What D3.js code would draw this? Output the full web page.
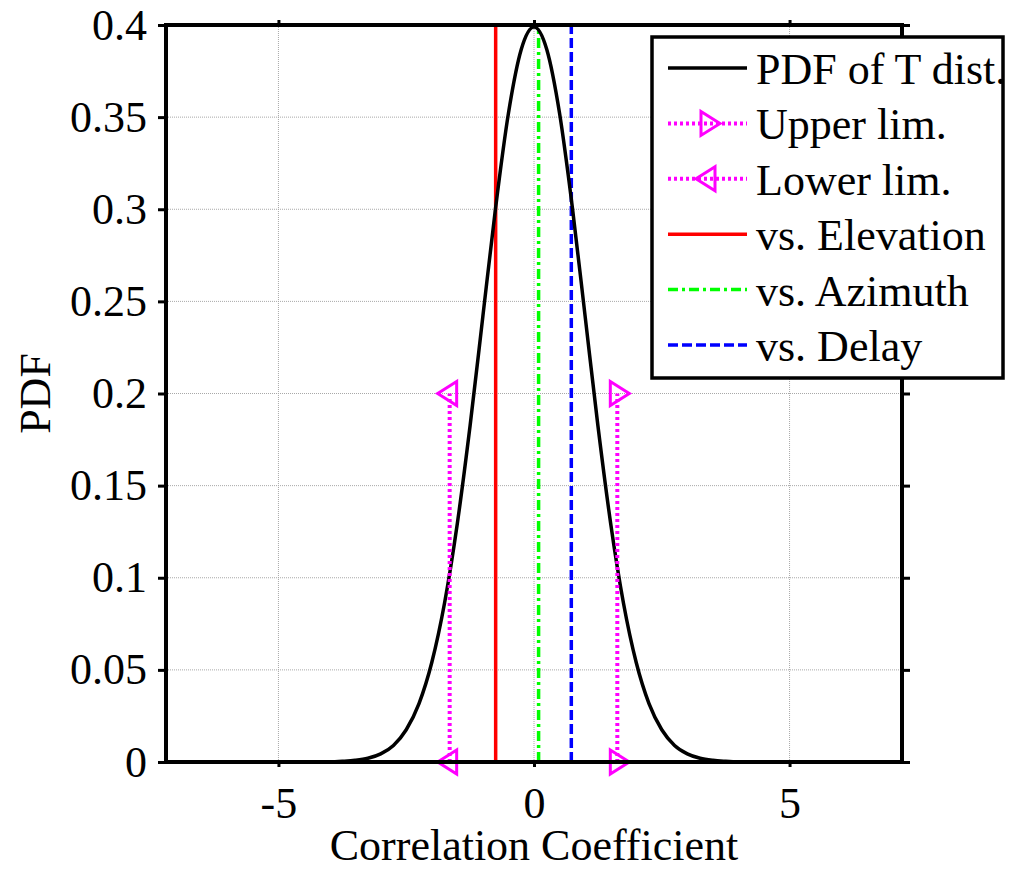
<!DOCTYPE html>
<html>
<head>
<meta charset="utf-8">
<script src="https://cdn.jsdelivr.net/npm/d3@7"></script>
<style>
  body { margin: 0; background: #fff; }
  svg { display: block; font-family: "Liberation Serif", "Times New Roman", serif; }
</style>
</head>
<body>
<div id="chart"></div>
<script>
// values
const pdfX = [-7, -6, -5, -4.5, -4, -3.75, -3.5, -3.25, -3, -2.75, -2.5, -2.25, -2, -1.75, -1.5, -1.25, -1, -0.75, -0.5, -0.25,
              0, 0.25, 0.5, 0.75, 1, 1.25, 1.5, 1.75, 2, 2.25, 2.5, 2.75, 3, 3.25, 3.5, 3.75, 4, 4.5, 5, 6, 7];
const pdfY = [0, 0, 0, 0, 0.0001, 0.0004, 0.0009, 0.002, 0.0044, 0.009, 0.0175, 0.0317, 0.054, 0.0863, 0.1295, 0.1826, 0.242, 0.3011, 0.3521, 0.3867,
              0.3989, 0.3867, 0.3521, 0.3011, 0.242, 0.1826, 0.1295, 0.0863, 0.054, 0.0317, 0.0175, 0.009, 0.0044, 0.002, 0.0009, 0.0004, 0.0001, 0, 0, 0, 0];

const limX = { upper: 1.63, lower: -1.65 };
const limY = [0, 0.2];
const coefX = { elevation: -0.75, azimuth: 0.09, delay: 0.73 };
const coefY = [0, 0.4];

const xTicks = [-5, 0, 5];
const yTicks = [0, 0.05, 0.1, 0.15, 0.2, 0.25, 0.3, 0.35, 0.4];

const legendLabels = ['PDF of T dist.', 'Upper lim.', 'Lower lim.', 'vs. Elevation', 'vs. Azimuth', 'vs. Delay'];

const W = 1011, H = 869;
const m = { left: 166, top: 25, right: 109, bottom: 107 };
const pw = W - m.left - m.right, ph = H - m.top - m.bottom;
const fs = '44px';

const svg = d3.select('#chart').append('svg')
    .attr('width', W).attr('height', H);

const x = d3.scaleLinear().domain([-7.2, 7.2]).range([0, pw]);
const y = d3.scaleLinear().domain([0, 0.4]).range([ph, 0]);

const g = svg.append('g').attr('transform', `translate(${m.left},${m.top})`);

// grid
g.append('g').selectAll('line').data(xTicks).enter().append('line')
    .attr('x1', d => x(d)).attr('x2', d => x(d)).attr('y1', 0).attr('y2', ph)
    .attr('stroke', '#a8a8a8').attr('stroke-width', 1).attr('stroke-dasharray', '1,1');
g.append('g').selectAll('line').data(yTicks).enter().append('line')
    .attr('y1', d => y(d)).attr('y2', d => y(d)).attr('x1', 0).attr('x2', pw)
    .attr('stroke', '#a8a8a8').attr('stroke-width', 1).attr('stroke-dasharray', '1,1');

const line = d3.line().x(d => x(d[0])).y(d => y(d[1]));

// markers
const triRight = 'M-7,-12 L12,0 L-7,12 Z';
const triLeft = 'M7,-12 L-12,0 L7,12 Z';

// vertical coefficient lines
const styles = {
    elevation: { color: '#ff0000', dash: null },
    azimuth: { color: '#00ff00', dash: '10,4,3,4' },
    delay: { color: '#0000ff', dash: '10,4' }
};
Object.keys(coefX).forEach(k => {
    g.append('path')
        .attr('d', line(coefY.map(v => [coefX[k], v])))
        .attr('fill', 'none')
        .attr('stroke', styles[k].color)
        .attr('stroke-width', 3.5)
        .attr('stroke-dasharray', styles[k].dash);
});

// the curve
g.append('path')
    .datum(pdfX.map((v, i) => [v, pdfY[i]]))
    .attr('d', line.curve(d3.curveMonotoneX))
    .attr('fill', 'none')
    .attr('stroke', '#000')
    .attr('stroke-width', 3.5);
line.curve(d3.curveLinear);

// limits
[['upper', triRight], ['lower', triLeft]].forEach(([k, tri]) => {
    g.append('path')
        .attr('d', line(limY.map(v => [limX[k], v])))
        .attr('fill', 'none')
        .attr('stroke', '#ff00ff')
        .attr('stroke-width', 4)
        .attr('stroke-dasharray', '3,3');
    g.selectAll(null).data(limY).enter().append('path')
        .attr('transform', d => `translate(${x(limX[k])},${y(d)})`)
        .attr('d', tri)
        .attr('fill', 'none')
        .attr('stroke', '#ff00ff')
        .attr('stroke-width', 3);
});

// axes
const fmt = d => String(d);
const xAxisB = g.append('g').attr('transform', `translate(0,${ph})`)
    .call(d3.axisBottom(x).tickValues(xTicks).tickFormat(fmt).tickSize(5).tickPadding(20));
const xAxisT = g.append('g')
    .call(d3.axisTop(x).tickValues(xTicks).tickFormat('').tickSize(5));
const yAxisL = g.append('g')
    .call(d3.axisLeft(y).tickValues(yTicks).tickFormat(fmt).tickSize(8).tickPadding(11));
const yAxisR = g.append('g').attr('transform', `translate(${pw},0)`)
    .call(d3.axisRight(y).tickValues(yTicks).tickFormat('').tickSize(8));
[xAxisB, xAxisT, yAxisL, yAxisR].forEach(a => {
    a.select('.domain').remove();
    a.selectAll('.tick line').attr('stroke', '#000').attr('stroke-width', 3);
    a.selectAll('.tick text').attr('fill', '#000')
        .style('font-family', '"Liberation Serif", serif').style('font-size', fs);
});

// frame
g.append('rect').attr('width', pw).attr('height', ph)
    .attr('fill', 'none').attr('stroke', '#000').attr('stroke-width', 4);

// axis labels
svg.append('text')
    .attr('x', m.left + x(0)).attr('y', 860)
    .attr('text-anchor', 'middle').style('font-size', fs)
    .text('Correlation Coefficient');
svg.append('text')
    .attr('transform', `translate(50,${m.top + ph / 2}) rotate(-90)`)
    .attr('text-anchor', 'middle').style('font-size', fs)
    .text('PDF');

// legend
const lg = svg.append('g').attr('transform', 'translate(652,37)');
lg.append('rect').attr('width', 351).attr('height', 341)
    .attr('fill', '#fff').attr('stroke', '#000').attr('stroke-width', 3.5);

const legendStyle = [
    { color: '#000', dash: null, marker: null },
    { color: '#ff00ff', dash: '3,3', marker: triRight },
    { color: '#ff00ff', dash: '3,3', marker: triLeft },
    { color: '#ff0000', dash: null, marker: null },
    { color: '#00ff00', dash: '10,4,3,4', marker: null },
    { color: '#0000ff', dash: '10,4', marker: null }
];
const rows = lg.selectAll('.row').data(legendLabels).enter().append('g')
    .attr('class', 'row')
    .attr('transform', (d, i) => `translate(0,${31 + i * 55.4})`);
rows.append('line')
    .attr('x1', 16).attr('x2', 95).attr('y1', 0).attr('y2', 0)
    .attr('stroke', (d, i) => legendStyle[i].color)
    .attr('stroke-width', (d, i) => legendStyle[i].color === '#ff00ff' ? 4 : 3.5)
    .attr('stroke-dasharray', (d, i) => legendStyle[i].dash);
rows.filter((d, i) => legendStyle[i].marker).append('path')
    .attr('transform', 'translate(56,0)')
    .attr('d', d => legendStyle[legendLabels.indexOf(d)].marker)
    .attr('fill', 'none').attr('stroke', '#ff00ff').attr('stroke-width', 3);
rows.append('text')
    .attr('x', 104).attr('y', 16)
    .style('font-size', fs)
    .text(d => d);
</script>
</body>
</html>
